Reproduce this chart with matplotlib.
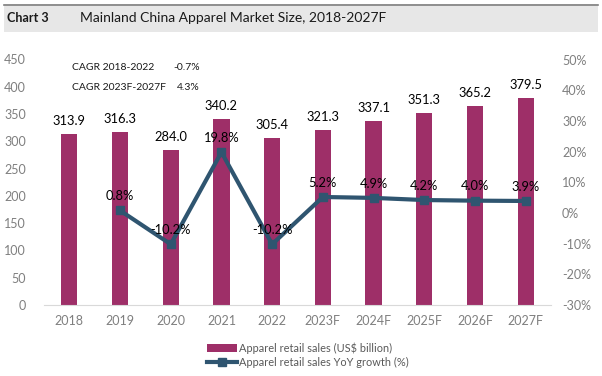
import matplotlib
matplotlib.use("Agg")
import matplotlib.pyplot as plt
from matplotlib.patches import Rectangle
from matplotlib.lines import Line2D
import numpy as np

years = ["2018", "2019", "2020", "2021", "2022", "2023F", "2024F", "2025F", "2026F", "2027F"]
sales = [313.9, 316.3, 284.0, 340.2, 305.4, 321.3, 337.1, 351.3, 365.2, 379.5]
growth = [None, 0.8, -10.2, 19.8, -10.2, 5.2, 4.9, 4.2, 4.0, 3.9]
left_ticks = [0, 50, 100, 150, 200, 250, 300, 350, 400, 450]
right_ticks = [-30, -20, -10, 0, 10, 20, 30, 40, 50]

FONT = "Lato"
plt.rcParams['font.family'] = [FONT, 'DejaVu Sans']

bar_color = "#9E2F68"
line_color = "#2F5570"
tick_color = "#7F7F7F"

fig = plt.figure(figsize=(6.02, 3.76), dpi=100)

# header band
fig.patches.append(Rectangle((4/602, 1 - 32/376), 594/602, 28/376, transform=fig.transFigure,
                             facecolor="#E7E7E7", edgecolor="none", zorder=0))
fig.lines.append(Line2D([4/602, 598/602], [1 - 4.5/376, 1 - 4.5/376], transform=fig.transFigure,
                        color="#7F7F7F", lw=1.2))
fig.text(7/602, 1 - 18/376, "Chart 3", fontsize=9, fontweight="bold", va="center", ha="left", color="#1A1A1A")
fig.text(80/602, 1 - 18/376, "Mainland China Apparel Market Size, 2018-2027F", fontsize=10,
         va="center", ha="left", color="#1A1A1A")

ax = fig.add_axes([44/602, 71/376, 507/602, 245.5/376])
x = np.arange(len(years))
ax.bar(x, sales, width=0.32, color=bar_color, zorder=2)
ax.set_xlim(-0.5, len(years) - 0.5)
ax.set_ylim(0, 450)
ax.set_yticks(left_ticks)
ax.set_xticks(x)
ax.set_xticklabels(years)
for s in ["top", "right", "left"]:
    ax.spines[s].set_visible(False)
ax.spines["bottom"].set_color("#D9D9D9")
ax.tick_params(axis="both", length=0, colors=tick_color, labelsize=9)
ax.tick_params(axis="y", pad=13)
ax.tick_params(axis="x", pad=7)

for xi, v in zip(x, sales):
    ax.annotate(f"{v:.1f}", (xi, v), xytext=(0, 5), textcoords="offset points",
                ha="center", va="bottom", fontsize=9.3, color="#000000", zorder=5)

ax2 = ax.twinx()
ax2.set_ylim(-30, 50)
ax2.set_yticks(right_ticks)
ax2.set_yticklabels([f"{t}%" for t in right_ticks])
for s in ["top", "right", "left", "bottom"]:
    ax2.spines[s].set_visible(False)
ax2.tick_params(axis="y", length=0, colors=tick_color, labelsize=9, pad=8)

gx = [xi for xi, g in zip(x, growth) if g is not None]
gy = [g for g in growth if g is not None]
ax2.plot(gx, gy, color=line_color, lw=3, marker="s", markersize=5.5, zorder=4)
for xi, g in zip(gx, gy):
    ax2.annotate(f"{g:.1f}%", (xi, g), xytext=(0, 6), textcoords="offset points",
                 ha="center", va="bottom", fontsize=9.3, color="#000000", zorder=5)

# CAGR annotations
fig.text(72/602, 1 - 67/376, "CAGR 2018-2022", fontsize=7.5, va="center", ha="left", color="#1A1A1A")
fig.text(173/602, 1 - 67/376, "-0.7%", fontsize=7.5, va="center", ha="left", color="#1A1A1A")
fig.text(72/602, 1 - 87/376, "CAGR 2023F-2027F", fontsize=7.5, va="center", ha="left", color="#1A1A1A")
fig.text(177/602, 1 - 87/376, "4.3%", fontsize=7.5, va="center", ha="left", color="#1A1A1A")

handles = [
    Rectangle((0, 0), 1, 0.45, facecolor=bar_color, edgecolor="none"),
    Line2D([], [], color=line_color, lw=3, marker="s", markersize=5.5),
]
labels = ["Apparel retail sales (US$ billion)", "Apparel retail sales YoY growth (%)"]
leg = fig.legend(handles, labels, loc="upper left", bbox_to_anchor=(203/602, 1 - 338/376),
                 frameon=False, fontsize=7.9, handlelength=2.7, handletextpad=0.15,
                 labelspacing=0.3, borderaxespad=0)
for t in leg.get_texts():
    t.set_color("#595959")

fig.savefig("out.png", dpi=100)
